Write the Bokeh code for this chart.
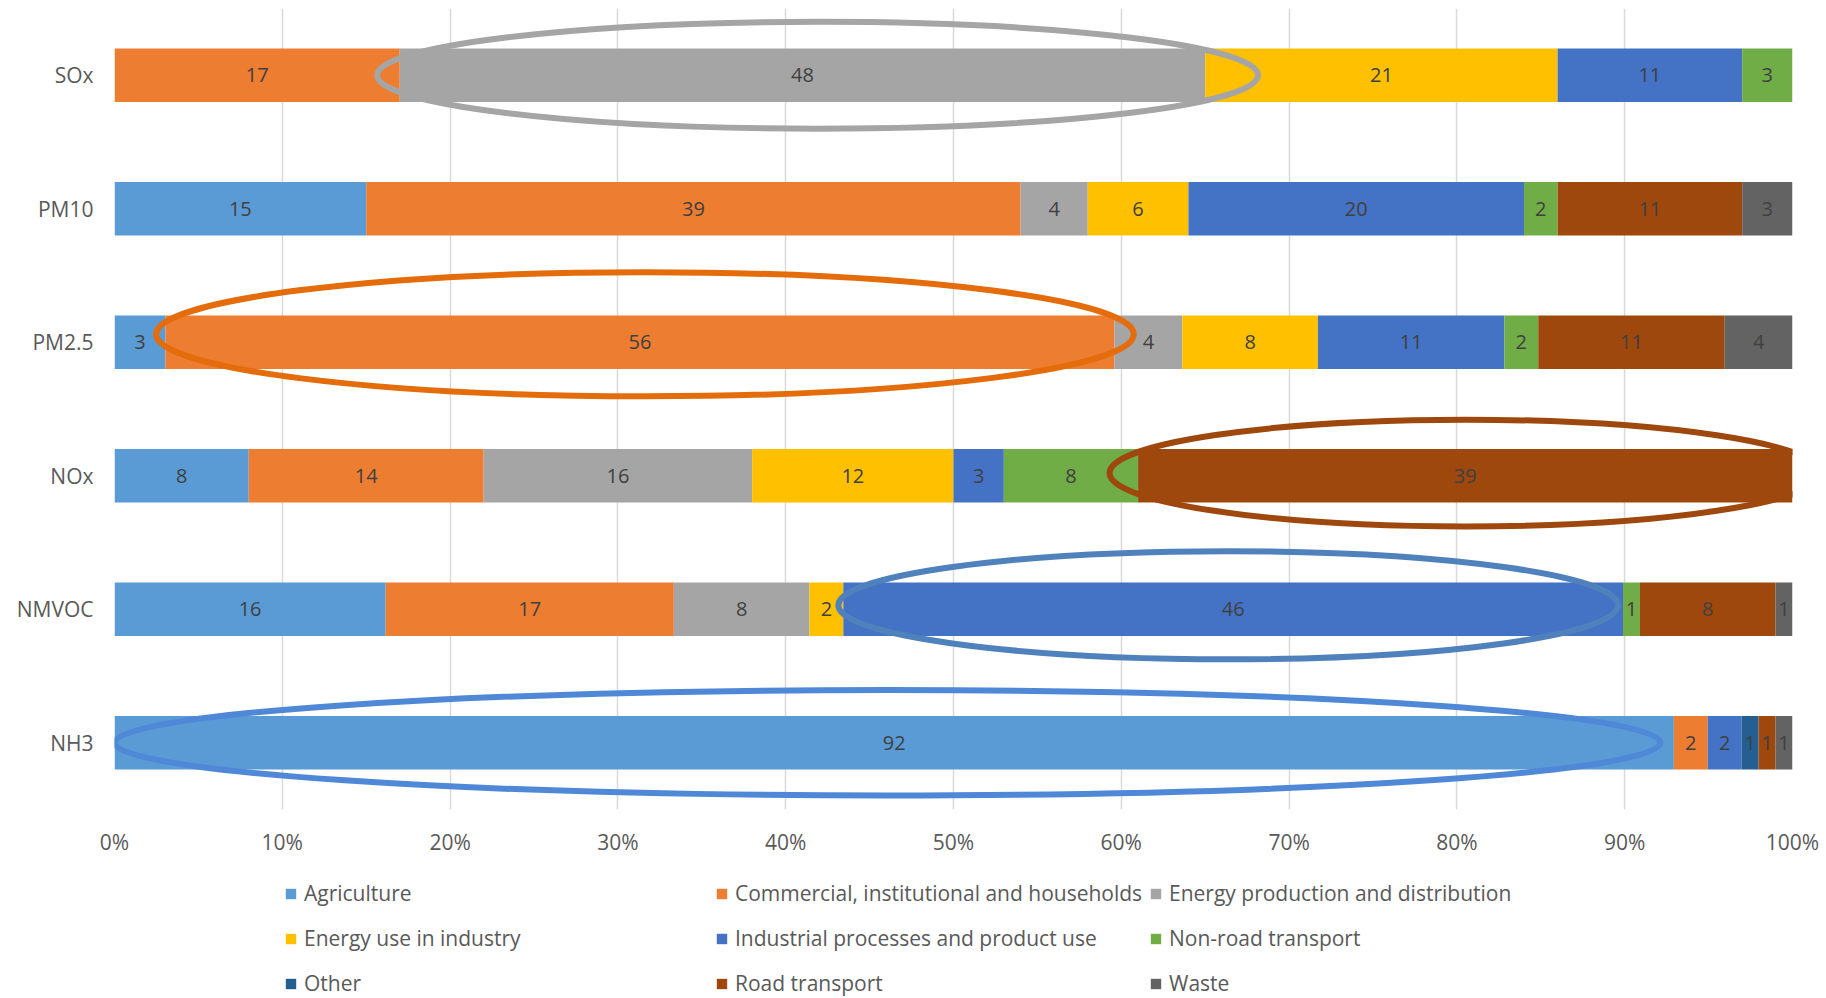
import numpy as np
from bokeh.plotting import figure
from bokeh.layouts import column
from bokeh.models import (ColumnDataSource, FactorRange, Range1d, Legend, LegendItem,
                          NumeralTickFormatter, FixedTicker)
from bokeh.core.properties import value
from bokeh.embed import file_html
from bokeh.resources import INLINE

# Pollutants, listed top to bottom as shown
pollutants = ["SOx", "PM10", "PM2.5", "NOx", "NMVOC", "NH3"]

# Share of emissions (%) per source sector, in pollutant order
sectors = [
    "Agriculture",
    "Commercial, institutional and households",
    "Energy production and distribution",
    "Energy use in industry",
    "Industrial processes and product use",
    "Non-road transport",
    "Other",
    "Road transport",
    "Waste",
]
agriculture = [0, 15, 3, 8, 16, 92]
commercial = [17, 39, 56, 14, 17, 2]
energy_production = [48, 4, 4, 16, 8, 0]
energy_use_industry = [21, 6, 8, 12, 2, 0]
industrial_processes = [11, 20, 11, 3, 46, 2]
non_road_transport = [3, 2, 2, 8, 1, 0]
other = [0, 0, 0, 0, 0, 1]
road_transport = [0, 11, 11, 39, 8, 1]
waste = [0, 3, 4, 0, 1, 1]

series = [agriculture, commercial, energy_production, energy_use_industry,
          industrial_processes, non_road_transport, other, road_transport, waste]

colors = ["#5B9BD5", "#ED7D31", "#A5A5A5", "#FFC000", "#4472C4",
          "#70AD47", "#255E91", "#9E480E", "#636363"]

# Dominant source per pollutant, circled on the chart
highlights = [
    ("SOx", "Energy production and distribution"),
    ("PM2.5", "Commercial, institutional and households"),
    ("NOx", "Road transport"),
    ("NMVOC", "Industrial processes and product use"),
    ("NH3", "Agriculture"),
]
# ring styling: colour, x shift, extra width, height, y shift
ring_style = [
    ("#A5A5A5", 0.009, 0.045, 0.80, 0.0),
    ("#E46C0A", 0.003, 0.017, 0.93, 0.06),
    ("#9E480E", 0.000, 0.034, 0.80, 0.02),
    ("#4F81BD", -0.003, 0.000, 0.81, 0.03),
    ("#4F88D6", -0.004, -0.008, 0.79, 0.0),
]

FONT = "Open Sans"
TEXT_GREY = "#595959"

vals = np.array(series, dtype=float)          # sectors x pollutants
shares = vals / vals.sum(axis=0)               # 100 % stacked
right = np.cumsum(shares, axis=0)
left = right - shares

p = figure(width=1826, height=870,
           y_range=FactorRange(factors=pollutants[::-1]),
           x_range=Range1d(0, 1),
           output_backend="svg", toolbar_location=None,
           min_border_left=114, min_border_right=34,
           min_border_top=8, min_border_bottom=61)
p.outline_line_color = None
p.background_fill_color = "white"
p.border_fill_color = "white"

for i, name in enumerate(sectors):
    src = ColumnDataSource(dict(y=pollutants, left=left[i], right=right[i]))
    p.hbar(y="y", left="left", right="right", height=0.4, source=src,
           fill_color=colors[i], line_color=None)

# highlight rings
rx, ry, rw, rh, rc = [], [], [], [], []
for (pol, sec), (col, dx, dw, h, dy) in zip(highlights, ring_style):
    si = sectors.index(sec)
    pi = pollutants.index(pol)
    rx.append((left[si, pi] + right[si, pi]) / 2 + dx)
    rw.append(shares[si, pi] + dw)
    ry.append((pol, dy))
    rh.append(h)
    rc.append(col)
p.ellipse(x="x", y="y", width="w", height="h",
          source=ColumnDataSource(dict(x=rx, y=ry, w=rw, h=rh, c=rc)),
          fill_color=None, line_color="c", line_width=6)

# segment value labels
lx, ly, lt = [], [], []
for i in range(len(sectors)):
    for j, pol in enumerate(pollutants):
        if vals[i, j] > 0:
            lx.append((left[i, j] + right[i, j]) / 2)
            ly.append(pol)
            lt.append(f"{int(vals[i, j])}")
p.text(x="x", y="y", text="t", source=ColumnDataSource(dict(x=lx, y=ly, t=lt)),
       text_align="center", text_baseline="middle",
       text_font=value(FONT), text_font_size="20px", text_color="#404040")

# axes
p.xaxis.ticker = FixedTicker(ticks=[k / 10 for k in range(11)])
p.xaxis.formatter = NumeralTickFormatter(format="0%")
for ax in (p.xaxis[0], p.yaxis[0]):
    ax.axis_line_color = None
    ax.major_tick_line_color = None
    ax.minor_tick_line_color = None
    ax.major_tick_out = 0
    ax.major_tick_in = 0
    ax.major_label_text_font = FONT
    ax.major_label_text_font_size = "21px"
    ax.major_label_text_color = TEXT_GREY
p.xaxis.major_label_standoff = 18
p.yaxis.major_label_standoff = 21

p.xgrid.grid_line_color = "#D9D9D9"
p.xgrid.grid_line_width = 1.5
p.ygrid.grid_line_color = None

# legend strip underneath (its frame lines up with the chart frame)
lg = figure(width=1826, height=128, x_range=Range1d(0, 1), y_range=Range1d(0, 1),
            output_backend="svg", toolbar_location=None,
            x_axis_location=None, y_axis_location=None,
            min_border_left=114, min_border_right=34, min_border_top=0, min_border_bottom=0)
lg.outline_line_color = None
lg.grid.grid_line_color = None
# zero-size keys that only carry each sector's swatch colour
keys = [lg.hbar(y=[0], left=[0], right=[0], height=0, fill_color=c, line_color=None)
        for c in colors]

columns = [[0, 3, 6], [1, 4, 7], [2, 5, 8]]
col_x = [170, 601, 1035]
for cx, idxs in zip(col_x, columns):
    leg = Legend(items=[LegendItem(label=sectors[k], renderers=[keys[k]]) for k in idxs],
                 location=(cx, 0), orientation="vertical",
                 glyph_width=13, glyph_height=13, label_standoff=7,
                 label_height=30, spacing=15, padding=0, margin=0,
                 label_text_font=FONT, label_text_font_size="21px",
                 label_text_color=TEXT_GREY,
                 border_line_color=None, background_fill_alpha=0)
    lg.add_layout(leg, "center")

open("out.html", "w").write(file_html(column(p, lg, spacing=0), INLINE))
